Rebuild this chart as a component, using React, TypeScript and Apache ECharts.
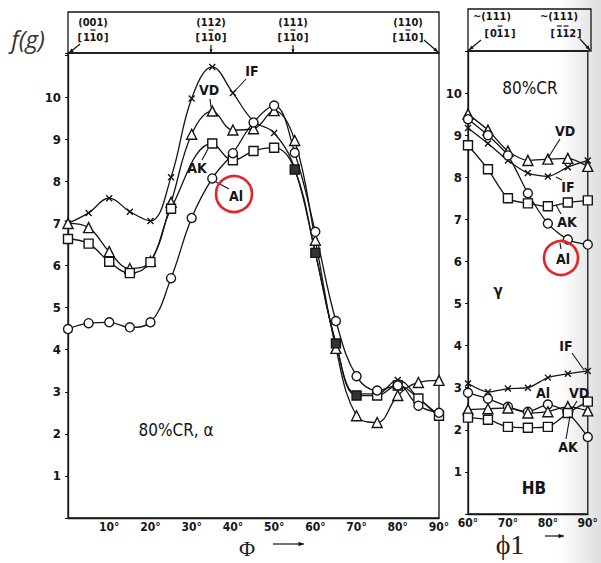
import React, { useEffect, useRef } from "react";
import * as echarts from "echarts";

// ---- Data: left panel (80%CR, alpha fibre) ----
const phiAlpha = [0, 5, 10, 15, 20, 25, 30, 35, 40, 45, 50, 55, 60, 65, 70, 75, 80, 85, 90];
const ifAlpha = [7.0, 7.25, 7.6, 7.28, 7.06, 8.1, 9.97, 10.72, 10.1, 9.43, 9.15, 8.3, 6.3, 4.15, 2.95, 2.95, 3.28, 2.85, 2.4];
const vdAlpha = [7.0, 6.9, 6.33, 5.93, 6.1, 7.5, 9.12, 9.67, 9.22, 9.25, 9.68, 8.97, 6.6, 4.03, 2.43, 2.27, 2.91, 3.22, 3.27];
const akAlpha = [6.63, 6.52, 6.09, 5.82, 6.08, 7.35, null, 8.9, 8.5, 8.72, 8.8, 8.28, 6.3, 4.15, 2.91, 2.91, 3.15, 2.84, 2.43];
const alAlpha = [4.49, 4.63, 4.65, 4.53, 4.65, 5.7, 7.13, 8.07, 8.67, 9.4, 9.8, 8.68, 6.8, 4.68, 3.37, 3.03, 3.15, 2.67, 2.5];
const akAlphaDarkAt = [55, 60, 65, 70];

// ---- Data: right panel (gamma fibre and HB) ----
const phi1 = [60, 65, 70, 75, 80, 85, 90];
const vdGamma = [9.5, 9.12, 8.62, 8.4, 8.43, 8.45, 8.26];
const ifGamma = [9.17, 8.8, 8.4, 8.1, 8.02, 8.24, 8.4];
const alGamma = [9.38, 9.0, 8.52, 7.62, 6.9, 6.52, 6.4];
const akGamma = [8.76, 8.19, 7.5, 7.38, 7.31, 7.4, 7.45];
const ifHB = [3.1, 2.9, 2.98, 3.0, 3.24, 3.33, 3.4];
const alHB = [2.88, 2.74, 2.55, 2.43, 2.6, 2.4, 1.83];
const vdHB = [2.48, 2.5, 2.52, 2.4, 2.43, 2.55, 2.45];
const akHB = [2.29, 2.24, 2.07, 2.05, 2.07, 2.4, 2.67];

const INK = "#151515";
const LBL = "DejaVu Sans Condensed, DejaVu Sans, sans-serif";
const CROSS = "path://M0,0L10,10M10,0L0,10";

function mk(name: string, xs: number[], ys: (number | null)[], symbol: string, size: number, gi: number, smooth: number, dark: number[] = []) {
  return {
    name,
    type: "line",
    xAxisIndex: gi,
    yAxisIndex: gi,
    smooth,
    connectNulls: true,
    symbol,
    symbolSize: size,
    showSymbol: true,
    lineStyle: { color: INK, width: 1.3 },
    itemStyle: { color: symbol === CROSS ? INK : "#fff", borderColor: INK, borderWidth: 1.4 },
    data: xs.map((x, i) =>
      ys[i] === null
        ? [x, null]
        : dark.includes(x)
        ? { value: [x, ys[i]], itemStyle: { color: "#333", borderColor: INK } }
        : [x, ys[i]]
    ),
    z: 3,
  };
}

function arrow(x1: number, y1: number, x2: number, y2: number, head = 5) {
  const a = Math.atan2(y2 - y1, x2 - x1);
  const p1 = [x2 - head * Math.cos(a - 0.4), y2 - head * Math.sin(a - 0.4)];
  const p2 = [x2 - head * Math.cos(a + 0.4), y2 - head * Math.sin(a + 0.4)];
  return [
    { type: "line", shape: { x1, y1, x2, y2 }, style: { stroke: INK, lineWidth: 1.2 } },
    { type: "polygon", shape: { points: [[x2, y2], p1, p2] }, style: { fill: INK } },
  ];
}

function txt(x: number, y: number, text: string, size: number, extra: any = {}) {
  return {
    type: "text",
    x,
    y,
    style: {
      text,
      fill: INK,
      font: `bold ${size}px ${LBL}`,
      align: "center",
      verticalAlign: "middle",
      ...extra,
    },
    z: 10,
  };
}

// band label with overlined digits: parts like ["[1","1","0]"] where flagged parts get a bar
function band(cx: number, cy: number, chars: { c: string; bar?: boolean }[]) {
  const w = 6.6;
  const total = chars.length * w;
  const out: any[] = [];
  chars.forEach((ch, i) => {
    const x = cx - total / 2 + i * w + w / 2;
    out.push(txt(x, cy, ch.c, 11));
    if (ch.bar) {
      out.push({ type: "line", shape: { x1: x - 2.5, y1: cy - 7, x2: x + 2.5, y2: cy - 7 }, style: { stroke: INK, lineWidth: 1.2 }, z: 10 });
    }
  });
  return out;
}
const s = (str: string, bars: number[] = []) => str.split("").map((c, i) => ({ c, bar: bars.includes(i) }));

function lead(x1: number, y1: number, x2: number, y2: number) {
  return { type: "line", shape: { x1, y1, x2, y2 }, style: { stroke: INK, lineWidth: 1.1 }, z: 10 };
}

export default function App() {
  const ref = useRef<HTMLDivElement>(null);
  useEffect(() => {
    if (!ref.current) return;
    const chart = echarts.init(ref.current, null, { renderer: "svg" });
    const axisLine = { show: true, lineStyle: { color: INK, width: 1.3 } };
    const xLabel = { fontFamily: LBL, fontWeight: "bold", fontSize: 12, color: INK, margin: 3 };
    const yLabel = { fontFamily: LBL, fontWeight: "bold", fontSize: 13, color: INK, margin: 7 };
    const option: any = {
      animation: false,
      backgroundColor: "#fff",
      grid: [
        { left: 68, top: 53, width: 371, height: 465, show: true, borderColor: INK, borderWidth: 1.3 },
        { left: 468, top: 51, width: 123, height: 463, show: true, borderColor: INK, borderWidth: 1.3 },
      ],
      xAxis: [
        {
          gridIndex: 0, type: "value", min: 0, max: 90, interval: 10,
          axisLine, axisTick: { show: false }, splitLine: { show: false },
          axisLabel: { ...xLabel, formatter: (v: number) => (v === 0 ? "" : v + "°") },
        },
        {
          gridIndex: 1, type: "value", min: 60, max: 90, interval: 10,
          axisLine, axisTick: { show: false }, splitLine: { show: false },
          axisLabel: { ...xLabel, formatter: (v: number) => v + "°" },
        },
      ],
      yAxis: [
        {
          gridIndex: 0, type: "value", min: 0, max: 11.05, interval: 1,
          axisLine, splitLine: { show: false },
          axisTick: { show: true, length: 3, lineStyle: { color: INK } },
          axisLabel: { ...yLabel, formatter: (v: number) => (v >= 1 && v <= 10 ? String(v) : "") },
        },
        {
          gridIndex: 1, type: "value", min: 0, max: 11, interval: 1,
          axisLine, splitLine: { show: false },
          axisTick: { show: true, length: 3, lineStyle: { color: INK } },
          axisLabel: { ...yLabel, margin: 6, formatter: (v: number) => (v >= 1 && v <= 10 ? String(v) : "") },
        },
      ],
      series: [
        mk("IF α", phiAlpha, ifAlpha, CROSS, 6, 0, 0.4),
        mk("VD α", phiAlpha, vdAlpha, "triangle", 10, 0, 0.4),
        mk("AK α", phiAlpha, akAlpha, "rect", 9, 0, 0.4, akAlphaDarkAt),
        mk("Al α", phiAlpha, alAlpha, "circle", 9, 0, 0.4),
        mk("VD γ", phi1, vdGamma, "triangle", 10, 1, 0.25),
        mk("IF γ", phi1, ifGamma, CROSS, 6, 1, 0.25),
        mk("Al γ", phi1, alGamma, "circle", 9, 1, 0.25),
        mk("AK γ", phi1, akGamma, "rect", 9, 1, 0.25),
        mk("IF HB", phi1, ifHB, CROSS, 6, 1, 0.25),
        mk("Al HB", phi1, alHB, "circle", 9, 1, 0.25),
        mk("VD HB", phi1, vdHB, "triangle", 10, 1, 0.25),
        mk("AK HB", phi1, akHB, "rect", 9, 1, 0.25),
      ],
      graphic: [
        // scanned grey margin
        {
          type: "rect", shape: { x: 558, y: 0, width: 43, height: 563 }, z: 0,
          style: {
            fill: new echarts.graphic.LinearGradient(0, 0, 1, 0, [
              { offset: 0, color: "rgba(0,0,0,0)" },
              { offset: 1, color: "rgba(0,0,0,0.13)" },
            ]),
          },
        },
        // top bands
        { type: "rect", shape: { x: 68, y: 12, width: 371, height: 41 }, style: { fill: "none", stroke: INK, lineWidth: 1.3 }, z: 5 },
        { type: "rect", shape: { x: 468, y: 9, width: 123, height: 42 }, style: { fill: "none", stroke: INK, lineWidth: 1.3 }, z: 5 },
        txt(93, 22, "(001)", 11),
        ...band(93, 37, s("[110]", [2])),
        txt(211, 22, "(112)", 11),
        ...band(211, 37, s("[110]", [2])),
        txt(293, 22, "(111)", 11),
        ...band(293, 37, s("[110]", [2])),
        txt(408, 22, "(110)", 11),
        ...band(408, 37, s("[110]", [2])),
        ...arrow(80, 44, 69, 53),
        ...arrow(211, 45, 211, 53, 4),
        ...arrow(293, 45, 293, 53, 4),
        ...arrow(424, 40, 438, 52),
        txt(492, 16, "~(111)", 11),
        ...band(500, 33, s("[011]", [2])),
        txt(559, 16, "~(111)", 11),
        ...band(566, 33, s("[112]", [1, 2])),
        ...arrow(481, 40, 469, 50),
        ...arrow(580, 39, 590, 50),
        // in-plot labels, left
        txt(252, 71, "IF", 14),
        lead(246, 79, 233, 93),
        txt(209, 90, "VD", 14),
        lead(210, 99, 211, 107),
        txt(197, 168, "AK", 14),
        lead(202, 160, 208, 149),
        txt(236, 196, "Al", 14),
        lead(229, 189, 216, 182),
        { type: "circle", shape: { cx: 234, cy: 194, r: 18 }, style: { fill: "none", stroke: "#e3242b", lineWidth: 2.6 }, z: 11 },
        txt(176, 430, "80%CR, α", 17, { font: `${17}px ${LBL}` }),
        // in-plot labels, right
        txt(530, 88, "80%CR", 17, { font: `${17}px ${LBL}` }),
        txt(565, 131, "VD", 14),
        lead(560, 139, 548, 158),
        txt(568, 187, "IF", 14),
        lead(562, 180, 556, 177),
        txt(567, 222, "AK", 14),
        lead(561, 214, 556, 205),
        txt(563, 259, "Al", 14),
        lead(561, 249, 560, 243),
        { type: "circle", shape: { cx: 561, cy: 258, r: 17 }, style: { fill: "none", stroke: "#e3242b", lineWidth: 2.6 }, z: 11 },
        txt(498, 291, "γ", 15),
        txt(566, 346, "IF", 14),
        lead(572, 353, 584, 370),
        txt(543, 393, "Al", 14),
        txt(579, 393, "VD", 14),
        lead(577, 401, 572, 409),
        txt(568, 447, "AK", 14),
        lead(566, 439, 570, 416),
        txt(534, 488, "HB", 17),
        // axis titles
        { type: "text", x: 28, y: 38, style: { text: "f(g)", fill: "#333", font: `italic 24px "Open Sans", sans-serif`, align: "center", verticalAlign: "middle" } },
        { type: "text", x: 247, y: 548, style: { text: "Φ", fill: "#222", font: `22px "Liberation Serif", serif`, align: "center", verticalAlign: "middle" } },
        ...arrow(273, 544, 304, 544, 6),
        { type: "text", x: 510, y: 544, style: { text: "ϕ1", fill: "#222", font: `28px "Liberation Serif", serif`, align: "center", verticalAlign: "middle" } },
        ...arrow(545, 536, 564, 536, 6),
      ],
    };
    chart.setOption(option);
    return () => chart.dispose();
  }, []);
  return <div ref={ref} style={{ position: "fixed", left: 0, top: 0, width: 601, height: 563 }} />;
}
